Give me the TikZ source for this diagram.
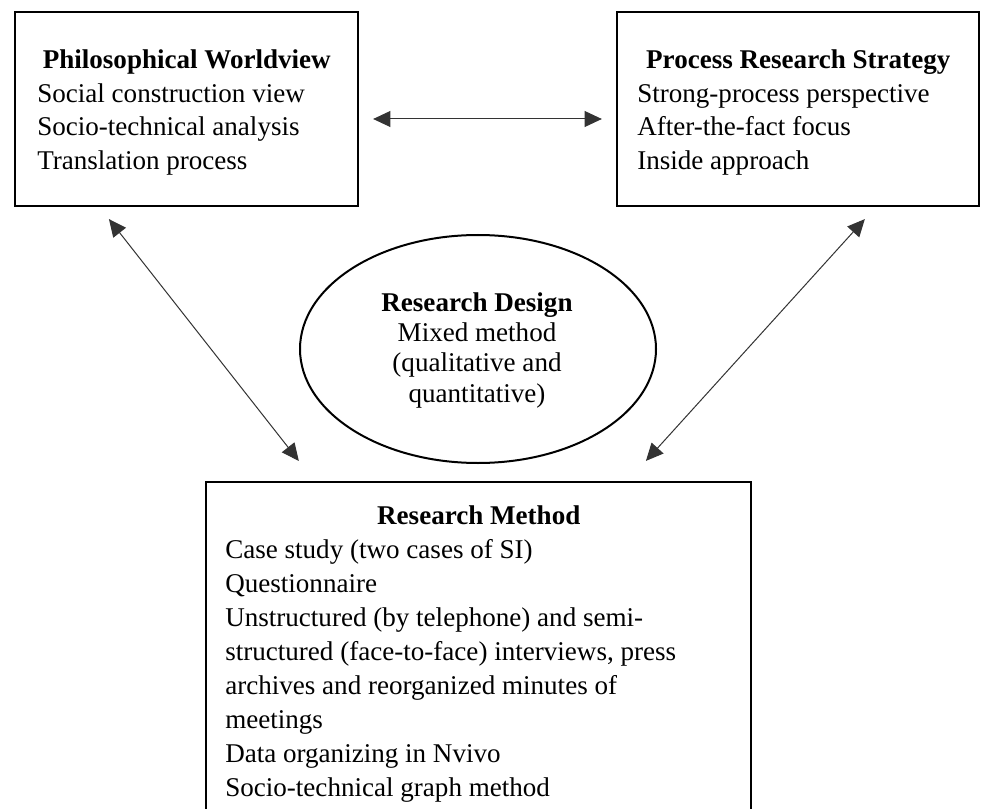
\documentclass[tikz,border=0pt]{standalone}
\usepackage{fontspec}
\setmainfont{Liberation Serif}
\usetikzlibrary{arrows.meta,calc,shapes.geometric,fit}
\begin{document}
\begin{tikzpicture}[x=0.75pt,y=-0.75pt,
  box/.style={draw=black, line width=1.7pt, inner sep=0pt},
  txt/.style={inner sep=0pt, anchor=base west, font=\fontsize{20.3}{25.1}\selectfont},
  ctxt/.style={inner sep=0pt, anchor=base, font=\fontsize{20.3}{22.8}\selectfont},
  link/.style={draw=black!80, line width=0.75pt, {Triangle[length=13pt,width=12pt]}-{Triangle[length=13pt,width=12pt]}}
]
\clip (0,0) rectangle (981,809);
\fill[white] (0,0) rectangle (981,809);
% boxes
\node[box, fit={(15,12) (358,206)}] (pw) {};
\node[box, fit={(617,12) (979,206)}] (prs) {};
\node[box, fit={(206,482) (751,840)}] (rm) {};
\node[draw=black, line width=1.5pt, ellipse, minimum width=267pt, minimum height=171pt, inner sep=0pt] (rd) at (478,349) {};
% texts
\node[txt] (pwt) at (37,69) {\begin{tabular}[t]{@{}l@{}}\makebox[224.25pt]{\textbf{Philosophical Worldview}}\\ Social construction view\\ Socio-technical analysis\\ Translation process\end{tabular}};
\node[txt] (prst) at (637,69) {\begin{tabular}[t]{@{}l@{}}\makebox[241.5pt]{\textbf{Process Research Strategy}}\\ Strong-process perspective\\ After-the-fact focus\\ Inside approach\end{tabular}};
\node[ctxt] (rdt) at (477,311) {\begin{tabular}[t]{@{}c@{}}\textbf{Research Design}\\ Mixed method\\ (qualitative and\\ quantitative)\end{tabular}};
\node[txt, font=\fontsize{20.3}{25.5}\selectfont] (rmt) at (225,524) {\begin{tabular}[t]{@{}l@{}}\makebox[380.25pt]{\textbf{Research Method}}\\ Case study (two cases of SI)\\ Questionnaire\\ Unstructured (by telephone) and semi-\\ structured (face-to-face) interviews, press\\ archives and reorganized minutes of\\ meetings\\ Data organizing in Nvivo\\ Socio-technical graph method\end{tabular}};
% connectors
\draw[link, shorten <=10.5pt, shorten >=10.5pt] ($(pw.east)+(0,10)$) -- ($(prs.west)+(0,10)$);
\draw[link, shorten <=11.4pt, shorten >=19pt] ($(pw.south west)+(85.7,0)$) -- ($(rm.north west)+(109.6,0)$);
\draw[link, shorten <=12.1pt, shorten >=20.2pt] ($(prs.south west)+(259.8,0)$) -- ($(rm.north west)+(423,0)$);
\end{tikzpicture}
\end{document}
